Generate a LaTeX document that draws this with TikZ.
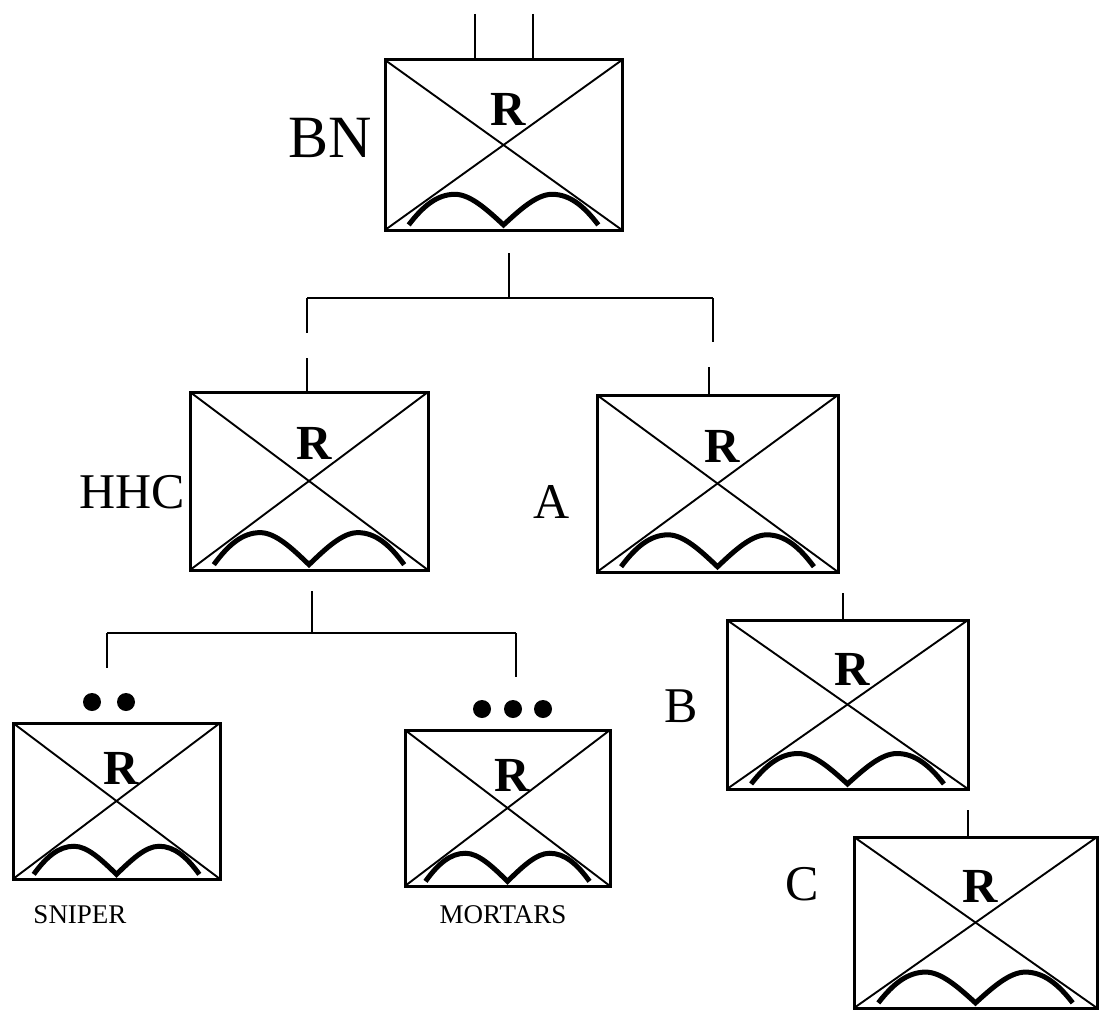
\documentclass[tikz,border=0pt]{standalone}
\usepackage{fontspec}
\setmainfont{Liberation Serif}
\usetikzlibrary{calc}
\begin{document}
\begin{tikzpicture}[x=1pt,y=-1pt,
  unitbox/.style={draw, line width=3pt, inner sep=0pt, outer sep=0pt},
  diag/.style={line width=1.9pt},
  hump/.style={line width=5pt},
  rmark/.style={font=\fontsize{49}{49}\selectfont\bfseries, inner sep=0pt},
  biglabel/.style={font=\fontsize{50}{50}\selectfont, inner sep=0pt},
  smalllabel/.style={font=\fontsize{27}{27}\selectfont, inner sep=0pt},
  conn/.style={line width=2.8pt},
  dot/.style={circle, fill, inner sep=0pt, minimum size=18pt}]
\useasboundingbox (0,0) rectangle (1102,1025);
\foreach \n/\cx/\cy/\w/\h in {bn/503.5/145/237/170, hhc/309/481/238/178, a/717.5/483.5/241/177, b/847.5/704.5/241/169, c/975.5/922.5/243/171, sn/116.5/801/207/156, mo/507.5/808/205/156} {
  \node[unitbox, minimum width=\w pt, minimum height=\h pt] (\n) at (\cx,\cy) {};
  \draw[diag] (\n.north west) -- (\n.south east);
  \draw[diag] (\n.south west) -- (\n.north east);
  \node[rmark] (\n-r) at ($(\n.north)+(5,{0.29*\h})$) {R};
  \begin{scope}[shift={(\n.south west)}, x={(\w pt,0pt)}, y={(0pt,\h pt)}]
    \draw[hump] (0.1,0.03) .. controls (0.16,0.14) and (0.22,0.21) .. (0.295,0.21)
      .. controls (0.36,0.21) and (0.43,0.12) .. (0.5,0.03)
      .. controls (0.57,0.12) and (0.64,0.21) .. (0.705,0.21)
      .. controls (0.78,0.21) and (0.84,0.14) .. (0.9,0.03);
  \end{scope}
}
% labels
\node[biglabel, font=\fontsize{60}{60}\selectfont] (lbn) at (330,138) {BN};
\node[biglabel] (lhhc) at (132,492) {HHC};
\node[biglabel] (la) at (552,502) {A};
\node[biglabel] (lb) at (681,706) {B};
\node[biglabel] (lc) at (802,884) {C};
\node[smalllabel] (lsn) at (80,915) {SNIPER};
\node[smalllabel] (lmo) at (503,915) {MORTARS};
% dots
\node[dot] (d1) at (92,702) {};
\node[dot] (d2) at (126,702) {};
\node[dot] (d3) at (482,709) {};
\node[dot] (d4) at (513,709) {};
\node[dot] (d5) at (543,709) {};
% connectors
\coordinate (bnt1) at (475,14);
\coordinate (bnt2) at (533,14);
\draw[conn] (bnt1) -- (bnt1 |- bn.north);
\draw[conn] (bnt2) -- (bnt2 |- bn.north);
\coordinate (j1) at (509,253);
\coordinate (j1h) at (509,298);
\coordinate (j1l) at (307,298);
\coordinate (j1r) at (713,298);
\draw[conn] (j1) -- (j1h);
\draw[conn] (j1l) -- (j1r);
\draw[conn] (j1l) -- ++(0,35);
\draw[conn] (j1r) -- ++(0,44);
\coordinate (hhct) at (307,358);
\draw[conn] (hhct) -- (hhct |- hhc.north);
\coordinate (at) at (709,367);
\draw[conn] (at) -- (at |- a.north);
\coordinate (j2) at (312,591);
\coordinate (j2h) at (312,633);
\coordinate (j2l) at (107,633);
\coordinate (j2r) at (516,633);
\draw[conn] (j2) -- (j2h);
\draw[conn] (j2l) -- (j2r);
\draw[conn] (j2l) -- ++(0,35);
\draw[conn] (j2r) -- ++(0,44);
\coordinate (bt) at (843,593);
\draw[conn] (bt) -- (bt |- b.north);
\coordinate (ct) at (968,810);
\draw[conn] (ct) -- (ct |- c.north);
\end{tikzpicture}
\end{document}
